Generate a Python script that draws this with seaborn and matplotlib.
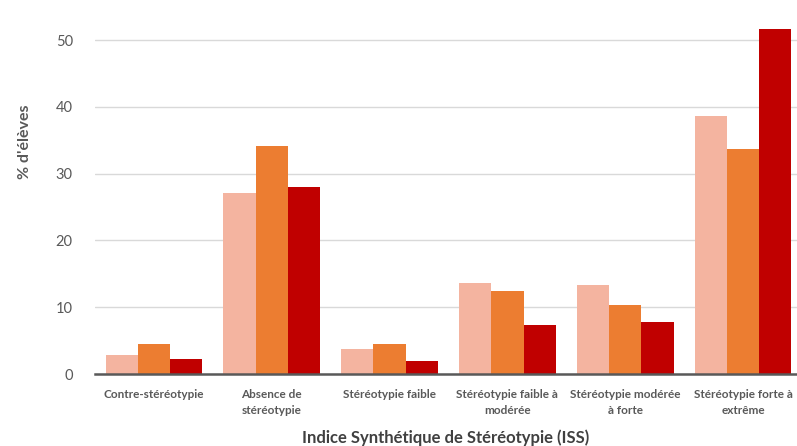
import pandas as pd
import seaborn as sns
import matplotlib.pyplot as plt

# --- data ---
categories = [
    "Contre-stéréotypie",
    "Absence de\nstéréotypie",
    "Stéréotypie faible",
    "Stéréotypie faible à\nmodérée",
    "Stéréotypie modérée\nà forte",
    "Stéréotypie forte à\nextrême",
]
series_names = ["Série 1", "Série 2", "Série 3"]
serie_1 = [2.9, 27.1, 3.8, 13.6, 13.3, 38.6]
serie_2 = [4.5, 34.1, 4.5, 12.5, 10.4, 33.7]
serie_3 = [2.2, 28.0, 1.9, 7.4, 7.8, 51.7]
y_ticks = [0, 10, 20, 30, 40, 50]

colors = ["#F4B4A0", "#EC7D31", "#C00000"]

df = pd.DataFrame({
    "categorie": categories * 3,
    "serie": [s for s in series_names for _ in categories],
    "valeur": serie_1 + serie_2 + serie_3,
})

sns.set_style("white")
plt.rcParams["font.family"] = ["Lato", "DejaVu Sans"]

fig = plt.figure(figsize=(7.97, 4.46), dpi=100)
ax = fig.add_axes([95 / 797, 0.1614, 1 - 95 / 797, 0.8087])

sns.barplot(data=df, x="categorie", y="valeur", hue="serie",
            palette=colors, order=categories, hue_order=series_names,
            width=0.82, saturation=1, legend=False, linewidth=0,
            edgecolor="none", ax=ax)

ax.set_ylim(0, 54)
ax.set_xlim(-0.5, 5.5 - 5 / 118)
ax.set_yticks(y_ticks)
ax.grid(axis="y", color="#d9d9d9", linewidth=1)
ax.set_axisbelow(True)

for side in ["left", "right", "top"]:
    ax.spines[side].set_visible(False)
ax.spines["bottom"].set_color("#595959")
ax.spines["bottom"].set_linewidth(1.8)

# category ticks at group boundaries, labels at the centres
ax.set_xticks([i - 0.5 for i in range(6)], minor=False)
ax.set_xticklabels([])
ax.tick_params(axis="x", which="major", length=3, width=1, color="#595959", direction="out")
ax.set_xticks(range(6), minor=True)
ax.set_xticklabels(categories, minor=True, fontsize=8.5, fontweight="bold",
                   color="#595959", linespacing=1.5)
ax.tick_params(axis="x", which="minor", length=0, pad=11)

ax.tick_params(axis="y", length=0, labelsize=10.5, labelcolor="#595959", pad=16)

ax.set_ylabel("% d'élèves", fontsize=11.5, fontweight="bold", color="#595959")
ax.yaxis.set_label_coords(-0.09, 0.645)
ax.set_xlabel("Indice Synthétique de Stéréotypie (ISS)", fontsize=12, fontweight="bold",
              color="#404040", labelpad=10)

fig.savefig("out.png", dpi=100)
